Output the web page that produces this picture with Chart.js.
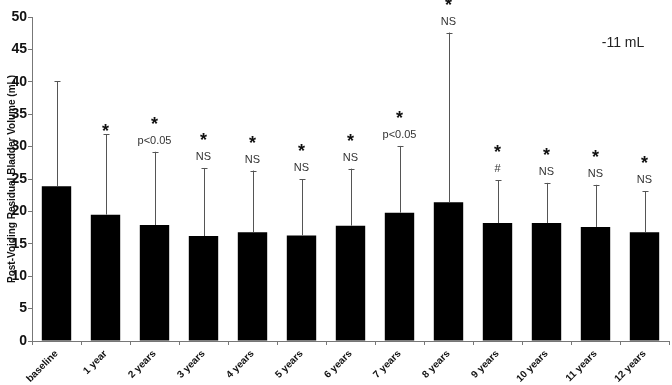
<!DOCTYPE html>
<html>
<head>
<meta charset="utf-8">
<script src="https://cdn.jsdelivr.net/npm/chart.js@4"></script>
<style>
  html, body { margin: 0; padding: 0; background: #fff; }
  #wrap { width: 672px; height: 385px; }
</style>
</head>
<body>
<div id="wrap"><canvas id="myChart" width="672" height="385"></canvas></div>
<script>
// data
const labels = ["baseline", "1 year", "2 years", "3 years", "4 years", "5 years", "6 years",
  "7 years", "8 years", "9 years", "10 years", "11 years", "12 years"];
const meanVolume = [23.9, 19.5, 17.9, 16.2, 16.8, 16.3, 17.8, 19.8, 21.4, 18.2, 18.2, 17.6, 16.8];
const upperSD = [40.1, 31.9, 29.2, 26.7, 26.3, 25.0, 26.6, 30.1, 47.6, 24.8, 24.4, 24.1, 23.1];
const stars = ["", "*", "*", "*", "*", "*", "*", "*", "*", "*", "*", "*", "*"];
const notes = ["", "", "p<0.05", "NS", "NS", "NS", "NS", "p<0.05", "NS", "#", "NS", "NS", "NS"];
const yTicks = [0, 5, 10, 15, 20, 25, 30, 35, 40, 45, 50];

const FONT = "'Liberation Sans', Arial, sans-serif";

// one-sided error bars plus the marks above them
const errorBars = {
  id: "errorBars",
  afterDatasetsDraw(chart) {
    const ctx = chart.ctx;
    const y = chart.scales.y;
    const meta = chart.getDatasetMeta(0);
    ctx.save();
    meta.data.forEach((bar, i) => {
      const x = Math.round(bar.x) + 0.5;
      const yTop = y.getPixelForValue(upperSD[i]);
      ctx.strokeStyle = "#555";
      ctx.lineWidth = 1;
      ctx.beginPath();
      ctx.moveTo(x, bar.y);
      ctx.lineTo(x, yTop);
      ctx.moveTo(x - 3, Math.round(yTop) + 0.5);
      ctx.lineTo(x + 3, Math.round(yTop) + 0.5);
      ctx.stroke();

      ctx.textAlign = "center";
      let starY = yTop - 7;
      if (notes[i]) {
        ctx.fillStyle = "#333";
        ctx.font = "11px " + FONT;
        ctx.textBaseline = "middle";
        ctx.fillText(notes[i], bar.x, yTop - 11);
        starY = yTop - 32;
      }
      if (stars[i]) {
        ctx.fillStyle = "#111";
        ctx.font = "bold 18px " + FONT;
        ctx.textBaseline = "alphabetic";
        ctx.fillText(stars[i], bar.x, starY + 10);
      }
    });
    ctx.fillStyle = "#222";
    ctx.font = "14px " + FONT;
    ctx.textAlign = "center";
    ctx.textBaseline = "middle";
    ctx.fillText("-11 mL", 623, 43);
    ctx.restore();
  }
};

new Chart(document.getElementById("myChart").getContext("2d"), {
  type: "bar",
  data: {
    labels: labels,
    datasets: [{
      data: meanVolume,
      backgroundColor: "#000",
      borderWidth: 0,
      barPercentage: 0.6,
      categoryPercentage: 1.0
    }]
  },
  options: {
    responsive: false,
    animation: false,
    layout: { padding: { top: 17, right: 3, left: 0, bottom: 0 } },
    plugins: { legend: { display: false }, tooltip: { enabled: false } },
    scales: {
      x: {
        offset: true,
        grid: { offset: true, drawOnChartArea: false, tickLength: 4, color: "#777" },
        border: { color: "#777" },
        ticks: {
          maxRotation: 45, minRotation: 45, autoSkip: false, padding: 3,
          color: "#111", font: { family: FONT, size: 10, weight: "bold" }
        },
        afterFit: s => { s.height = 44; }
      },
      y: {
        min: 0, max: 50,
        afterBuildTicks: s => { s.ticks = yTicks.map(v => ({ value: v })); },
        grid: { drawOnChartArea: false, tickLength: 4, color: "#777" },
        border: { color: "#777" },
        ticks: { padding: 1, color: "#111", font: { family: FONT, size: 14, weight: "bold" } },
        title: {
          display: true,
          text: "Post-Voiding Residual Bladder Volume (mL)",
          color: "#111",
          font: { family: FONT, size: 10, weight: "bold" },
          padding: { top: 6, bottom: 0 }
        },
        afterFit: s => { s.width = 32; }
      }
    }
  },
  plugins: [errorBars]
});
</script>
</body>
</html>
